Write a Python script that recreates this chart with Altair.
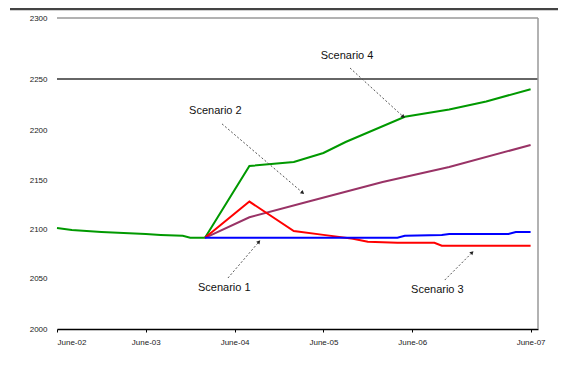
import altair as alt
import pandas as pd

# ---- data (months since June-02, values) ----
hist_month = [0, 2, 6, 9, 12, 14, 17, 18, 20]
hist_value = [2101, 2099, 2097, 2096, 2095, 2094, 2093, 2091, 2091]

s1_month = [20, 46, 47, 52, 53, 61, 62, 64]
s1_value = [2091, 2091, 2093, 2094, 2095, 2095, 2097, 2097]

s2_month = [20, 26, 34, 44, 53, 64]
s2_value = [2091, 2112, 2128, 2148, 2163, 2185]

s3_month = [20, 26, 32, 36, 40, 42, 46, 51, 52, 64]
s3_value = [2091, 2128, 2098, 2094, 2090, 2087, 2086, 2086, 2083, 2083]

s4_month = [20, 26, 32, 36, 39, 47, 53, 58, 64]
s4_value = [2091, 2164, 2168, 2177, 2188, 2213, 2220, 2228, 2240]

series_names = ["History", "Scenario 4", "Scenario 2", "Scenario 3", "Scenario 1"]
series_colors = ["#009900", "#009900", "#993366", "#FF0000", "#0000FF"]

x_tick_months = [0, 12, 24, 36, 48, 64]
x_tick_labels = ["June-02", "June-03", "June-04", "June-05", "June-06", "June-07"]
y_ticks = [2000, 2050, 2100, 2150, 2200, 2250, 2300]
y_tick_pixels = [311, 260, 211, 162, 112, 61, 0]

# annotations: label text, label position, arrow start, arrow end, arrow angle
ann_text = ["Scenario 4", "Scenario 2", "Scenario 1", "Scenario 3"]
ann_tx = [39.2, 21.4, 22.6, 51.4]
ann_ty = [2269, 2219, 2040, 2038]
arr_x1 = [39.6, 22.3, 23.1, 52.4]
arr_y1 = [2259, 2206, 2050, 2048]
arr_x2 = [46.8, 33.2, 27.3, 56.1]
arr_y2 = [2213, 2137, 2087, 2076]
arr_angle = [133, 130, 41, 44]

rows = []
for name, ms, vs in [
    ("History", hist_month, hist_value),
    ("Scenario 4", s4_month, s4_value),
    ("Scenario 2", s2_month, s2_value),
    ("Scenario 3", s3_month, s3_value),
    ("Scenario 1", s1_month, s1_value),
]:
    for m, v in zip(ms, vs):
        rows.append({"series": name, "month": m, "value": v})
df = pd.DataFrame(rows)

ann = pd.DataFrame({
    "text": ann_text, "tx": ann_tx, "ty": ann_ty,
    "x1": arr_x1, "y1": arr_y1, "x2": arr_x2, "y2": arr_y2, "angle": arr_angle,
})

label_expr = "".join(
    f"datum.value == {m} ? '{l}' : " for m, l in zip(x_tick_months, x_tick_labels)
) + "''"

xscale = alt.Scale(domain=[0, 65], nice=False, zero=False)
yscale = alt.Scale(domain=y_ticks, range=y_tick_pixels)

x_enc = alt.X("month:Q", scale=xscale, axis=alt.Axis(
    values=x_tick_months, labelExpr=label_expr, title=None, grid=False,
    domainColor="#000000", domainWidth=1.5, tickColor="#000000", tickSize=3,
    labelFontSize=8, labelColor="#222222", labelPadding=6, labelFont="Liberation Sans"))
y_enc = alt.Y("value:Q", scale=yscale, axis=alt.Axis(
    values=y_ticks, format="d", title=None, grid=False, domain=False, ticks=False,
    labelFontSize=8, labelColor="#222222", labelPadding=10, labelFont="Liberation Sans"))

lines = alt.Chart(df).mark_line(strokeWidth=2).encode(
    x=x_enc, y=y_enc,
    color=alt.Color("series:N", scale=alt.Scale(domain=series_names, range=series_colors), legend=None),
    order="month:Q",
)

ref_df = pd.DataFrame({"v": [y_ticks[-1], y_ticks[-2]], "c": ["#999999", "#333333"]})
refs = alt.Chart(ref_df).mark_rule(strokeWidth=1.5).encode(
    y=alt.Y("v:Q", scale=yscale),
    color=alt.Color("c:N", scale=None),
)
right_border = alt.Chart(pd.DataFrame({"m": [65]})).mark_rule(color="#999999", strokeWidth=1.5).encode(
    x=alt.X("m:Q", scale=xscale), y=alt.value(0), y2=alt.value(311))
frame_top = alt.Chart(pd.DataFrame({"a": [0]})).mark_rule(color="#444444", strokeWidth=2.5).encode(
    x=alt.value(-47), x2=alt.value(520), y=alt.value(-9))

arrows = alt.Chart(ann).mark_rule(color="#555555", strokeWidth=1, strokeDash=[2, 2]).encode(
    x=alt.X("x1:Q", scale=xscale), y=alt.Y("y1:Q", scale=yscale),
    x2="x2:Q", y2="y2:Q")
heads = alt.Chart(ann).mark_point(shape="triangle-up", filled=True, size=18, color="#222222", opacity=1).encode(
    x=alt.X("x2:Q", scale=xscale), y=alt.Y("y2:Q", scale=yscale), angle=alt.Angle("angle:Q", scale=None))
labels = alt.Chart(ann).mark_text(fontSize=11, font="Liberation Sans", color="#111111").encode(
    x=alt.X("tx:Q", scale=xscale), y=alt.Y("ty:Q", scale=yscale), text="text:N")

chart = alt.layer(frame_top, refs, right_border, lines, arrows, heads, labels).properties(
    width=481, height=311,
    autosize=alt.AutoSizeParams(type="none"),
    padding={"left": 49, "top": 10, "right": 20, "bottom": 40},
).configure(background="white").configure_view(strokeWidth=0, stroke="transparent")

chart.save("out.html", embed_options={"renderer": "svg", "actions": False})
